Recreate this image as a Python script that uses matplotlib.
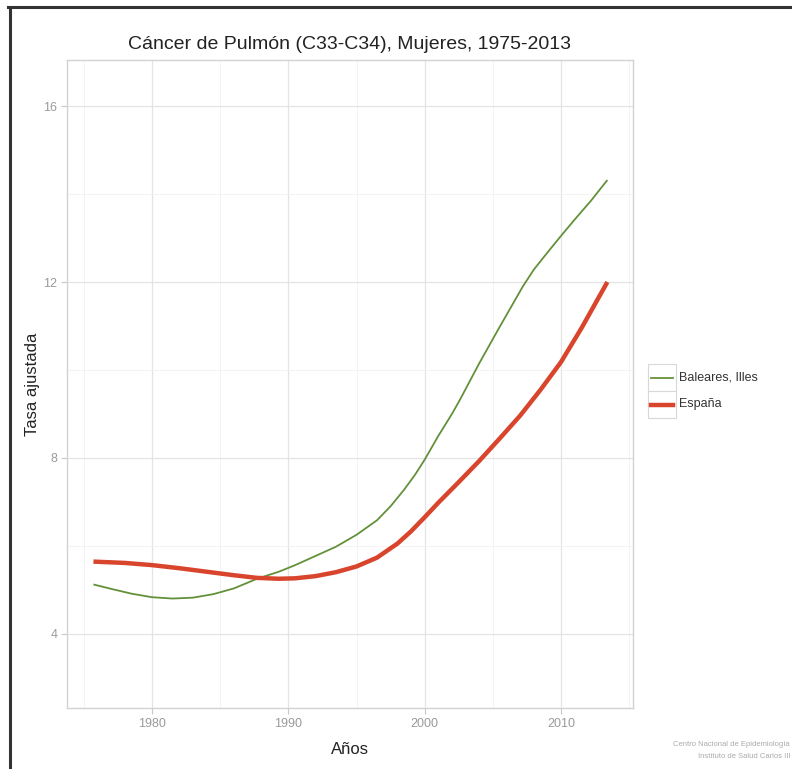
import matplotlib.pyplot as plt
from matplotlib.lines import Line2D
from matplotlib.patches import Rectangle
from matplotlib.ticker import MultipleLocator

plt.rcParams['font.family'] = ['Liberation Sans', 'DejaVu Sans']

# values
years_bal = [1975.7, 1977, 1978.5, 1980, 1981.5, 1983, 1984.5, 1986, 1987.7, 1989.3,
             1990.5, 1992, 1993.5, 1995, 1996.5, 1997.5, 1998.5, 1999.3, 2000, 2001,
             2002, 2002.6, 2004, 2005.5, 2006.5, 2007.2, 2008, 2009, 2010, 2011,
             2012.2, 2013.4]
rate_bal = [5.12, 5.02, 4.91, 4.83, 4.80, 4.82, 4.90, 5.03, 5.25, 5.41,
            5.56, 5.77, 5.98, 6.25, 6.58, 6.90, 7.28, 7.62, 7.96, 8.50,
            9.00, 9.33, 10.15, 10.98, 11.52, 11.90, 12.28, 12.67, 13.05, 13.42,
            13.85, 14.32]

years_esp = [1975.7, 1978, 1980, 1982, 1984, 1986, 1987.7, 1989.3, 1990.5, 1992,
             1993.5, 1995, 1996.5, 1998, 1999, 2000, 2001, 2002.5, 2004, 2005.5,
             2007, 2008.5, 2010, 2011.5, 2013.4]
rate_esp = [5.64, 5.61, 5.56, 5.49, 5.41, 5.33, 5.27, 5.25, 5.26, 5.31,
            5.40, 5.53, 5.73, 6.05, 6.33, 6.65, 6.98, 7.45, 7.93, 8.44,
            8.96, 9.55, 10.18, 10.95, 12.00]

series_names = ["Baleares, Illes", "España"]
series_colors = ["#63913a", "#d8452c"]
series_widths = [1.3, 3.2]

x_ticks = [1980, 1990, 2000, 2010]
y_ticks = [4, 8, 12, 16]

fig = plt.figure(figsize=(7.92, 7.69), dpi=100)
ax = fig.add_axes([67 / 792, 1 - 708 / 769, 566 / 792, 648 / 769])

ax.plot(years_bal, rate_bal, color=series_colors[0], lw=series_widths[0],
        solid_capstyle='butt', solid_joinstyle='round', zorder=3)
ax.plot(years_esp, rate_esp, color=series_colors[1], lw=series_widths[1],
        solid_capstyle='butt', solid_joinstyle='round', zorder=3)

ax.set_xlim(1973.76, 2015.28)
ax.set_ylim(2.31, 17.05)
ax.set_xticks(x_ticks)
ax.set_yticks(y_ticks)
ax.xaxis.set_minor_locator(MultipleLocator(5))
ax.yaxis.set_minor_locator(MultipleLocator(2))
ax.grid(which='major', color='#e4e4e4', lw=0.9)
ax.grid(which='minor', color='#f1f1f1', lw=0.6)
ax.set_axisbelow(True)
for sp in ax.spines.values():
    sp.set_color('#d2d2d2')
    sp.set_linewidth(1.0)
ax.tick_params(which='major', colors='#c8c8c8', length=4, width=0.8,
               labelcolor='#9a9a9a', labelsize=9, pad=3)
ax.tick_params(which='minor', length=0)

ax.set_title("Cáncer de Pulmón (C33-C34), Mujeres, 1975-2013",
             fontsize=14, color='#222222', pad=8)
ax.set_xlabel("Años", fontsize=12, color='#222222', labelpad=9)
ax.set_ylabel("Tasa ajustada", fontsize=12, color='#222222', labelpad=2)

# legend drawn by hand, ggplot style with boxed keys
def fx(px):
    return px / 792

def fy(py):
    return 1 - py / 769

key_left, key_w, key_h, key_top = 648, 28, 27, 364
for i, name in enumerate(series_names):
    top = key_top + i * key_h
    fig.add_artist(Rectangle((fx(key_left), fy(top + key_h)), key_w / 792, key_h / 769,
                             transform=fig.transFigure, facecolor='white',
                             edgecolor='#d8d8d8', lw=0.8))
    yc = fy(top + key_h / 2)
    fig.add_artist(Line2D([fx(key_left + 3), fx(key_left + key_w - 3)], [yc, yc],
                          transform=fig.transFigure, color=series_colors[i],
                          lw=series_widths[i]))
    fig.text(fx(key_left + key_w + 3), yc, name, fontsize=9, color='#333333',
             va='center', ha='left')

# credits in the bottom right corner
fig.text(fx(790), fy(745), "Centro Nacional de Epidemiología", fontsize=5.5,
         color='#aaaaaa', ha='right', va='center')
fig.text(fx(790), fy(757), "Instituto de Salud Carlos III", fontsize=5.5,
         color='#aaaaaa', ha='right', va='center')

# dark frame along top and left edge
fig.add_artist(Line2D([fx(8), 1], [fy(6.5), fy(6.5)], transform=fig.transFigure,
                      color='#333333', lw=2.2))
fig.add_artist(Line2D([fx(9.5), fx(9.5)], [0, fy(6.5)], transform=fig.transFigure,
                      color='#333333', lw=2.2))

fig.savefig("out.png", dpi=100)
